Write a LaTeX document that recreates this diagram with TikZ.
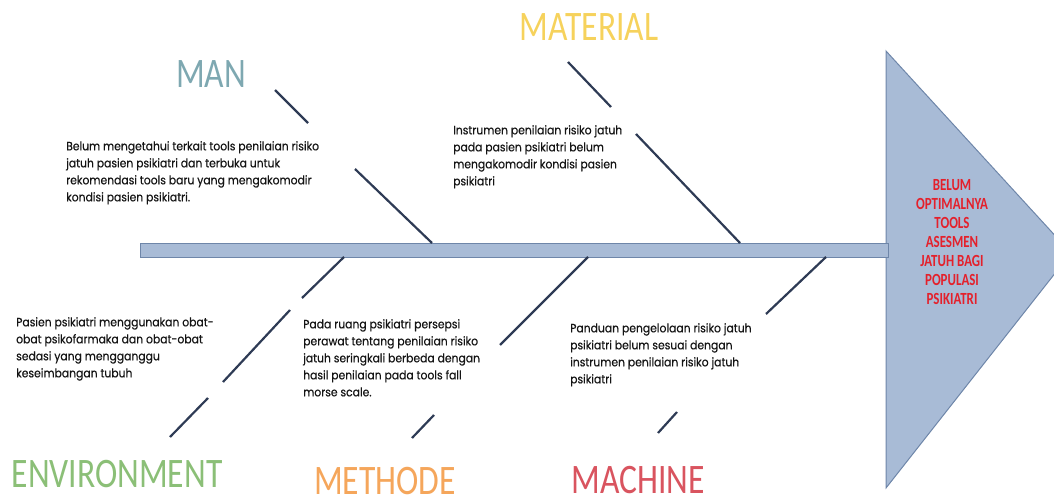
\documentclass[tikz,border=0pt]{standalone}
\usepackage{fontspec}
\usepackage{xcolor}
\setmainfont{Poppins}[FakeStretch=0.9,FakeBold=0.4]
\newfontfamily\catfont{Carlito}[FakeStretch=0.8]
\newfontfamily\headfont{Carlito}[FakeStretch=0.76]
\definecolor{boneblue}{HTML}{2E3B55}
\definecolor{spinefill}{HTML}{A8BBD6}
\definecolor{spineline}{HTML}{6E86A9}
\definecolor{mancol}{HTML}{7EA8B1}
\definecolor{matcol}{HTML}{F6D25C}
\definecolor{envcol}{HTML}{8BBF77}
\definecolor{metcol}{HTML}{F5A65B}
\definecolor{maccol}{HTML}{D9545F}
\definecolor{headcol}{HTML}{E4202B}
\definecolor{txt}{HTML}{141414}

\begin{document}
\begin{tikzpicture}[x=1pt,y=-1pt,
  spine/.style={fill=spinefill,draw=spineline,line width=1pt},
  bone/.style={draw=boneblue,line width=2.2pt},
  cat/.style={font=\catfont\fontsize{42}{42}\selectfont,inner sep=0pt,anchor=base},
  cause/.style={font=\fontsize{12}{17}\selectfont,text=txt,align=left,inner sep=0pt,anchor=north west}]
  \useasboundingbox (0,0) rectangle (1054,503);
  \clip (0,0) rectangle (1054,503);
  % head and spine
  \draw[spine] (886,51) -- (1071,253) -- (886,488) -- cycle;
  \draw[spine] (140,243) rectangle (888,257);
  \node[font=\headfont\bfseries\fontsize{17}{19}\selectfont,text=headcol,align=center,inner sep=0pt,anchor=north] (head) at (952,179.5)
    {BELUM\\OPTIMALNYA\\TOOLS\\ASESMEN\\JATUH BAGI\\POPULASI\\PSIKIATRI};
  % categories
  \node[cat,text=mancol] (man) at (211,88) {MAN};
  \node[cat,text=matcol] (material) at (589,41) {MATERIAL};
  \node[cat,text=envcol] (environment) at (117,487) {ENVIRONMENT};
  \node[cat,text=metcol] (methode) at (385,494) {METHODE};
  \node[cat,text=maccol] (machine) at (638,493) {MACHINE};
  % causes
  \node[cause] (c-man) at (66,141) {Belum mengetahui terkait tools penilaian risiko\\jatuh pasien psikiatri dan terbuka untuk\\rekomendasi tools baru yang mengakomodir\\kondisi pasien psikiatri.};
  \node[cause] (c-mat) at (453,125) {Instrumen penilaian risiko jatuh\\pada pasien psikiatri belum\\mengakomodir kondisi pasien\\psikiatri};
  \node[cause] (c-env) at (16,317) {Pasien psikiatri menggunakan obat-\\obat psikofarmaka dan obat-obat\\sedasi yang mengganggu\\keseimbangan tubuh};
  \node[cause] (c-met) at (303,319) {Pada ruang psikiatri persepsi\\perawat tentang penilaian risiko\\jatuh seringkali berbeda dengan\\hasil penilaian pada tools fall\\morse scale.};
  \node[cause] (c-mac) at (570,323) {Panduan pengelolaan risiko jatuh\\psikiatri belum sesuai dengan\\instrumen penilaian risiko jatuh\\psikiatri};
  % bones
  \coordinate (man-a) at (275,90);   \coordinate (man-b) at (308,123);
  \coordinate (man-c) at (355,169);  \coordinate (man-d) at (432,243);
  \coordinate (mat-a) at (568,62);   \coordinate (mat-b) at (611,107);
  \coordinate (mat-c) at (636,134);  \coordinate (mat-d) at (740,243);
  \coordinate (env-a) at (344,257);  \coordinate (env-b) at (302,298);
  \coordinate (env-c) at (290,310);  \coordinate (env-d) at (223,382);
  \coordinate (env-e) at (208,398);  \coordinate (env-f) at (170,437);
  \coordinate (met-a) at (588,257);  \coordinate (met-b) at (500,345);
  \coordinate (met-c) at (434,415);  \coordinate (met-d) at (412,438);
  \coordinate (mac-a) at (826,257);  \coordinate (mac-b) at (766,314);
  \coordinate (mac-c) at (677,412);  \coordinate (mac-d) at (658,433);
  \draw[bone] (man-a) -- (man-b) (man-c) -- (man-d);
  \draw[bone] (mat-a) -- (mat-b) (mat-c) -- (mat-d);
  \draw[bone] (env-a) -- (env-b) (env-c) -- (env-d) (env-e) -- (env-f);
  \draw[bone] (met-a) -- (met-b) (met-c) -- (met-d);
  \draw[bone] (mac-a) -- (mac-b) (mac-c) -- (mac-d);
\end{tikzpicture}
\end{document}
